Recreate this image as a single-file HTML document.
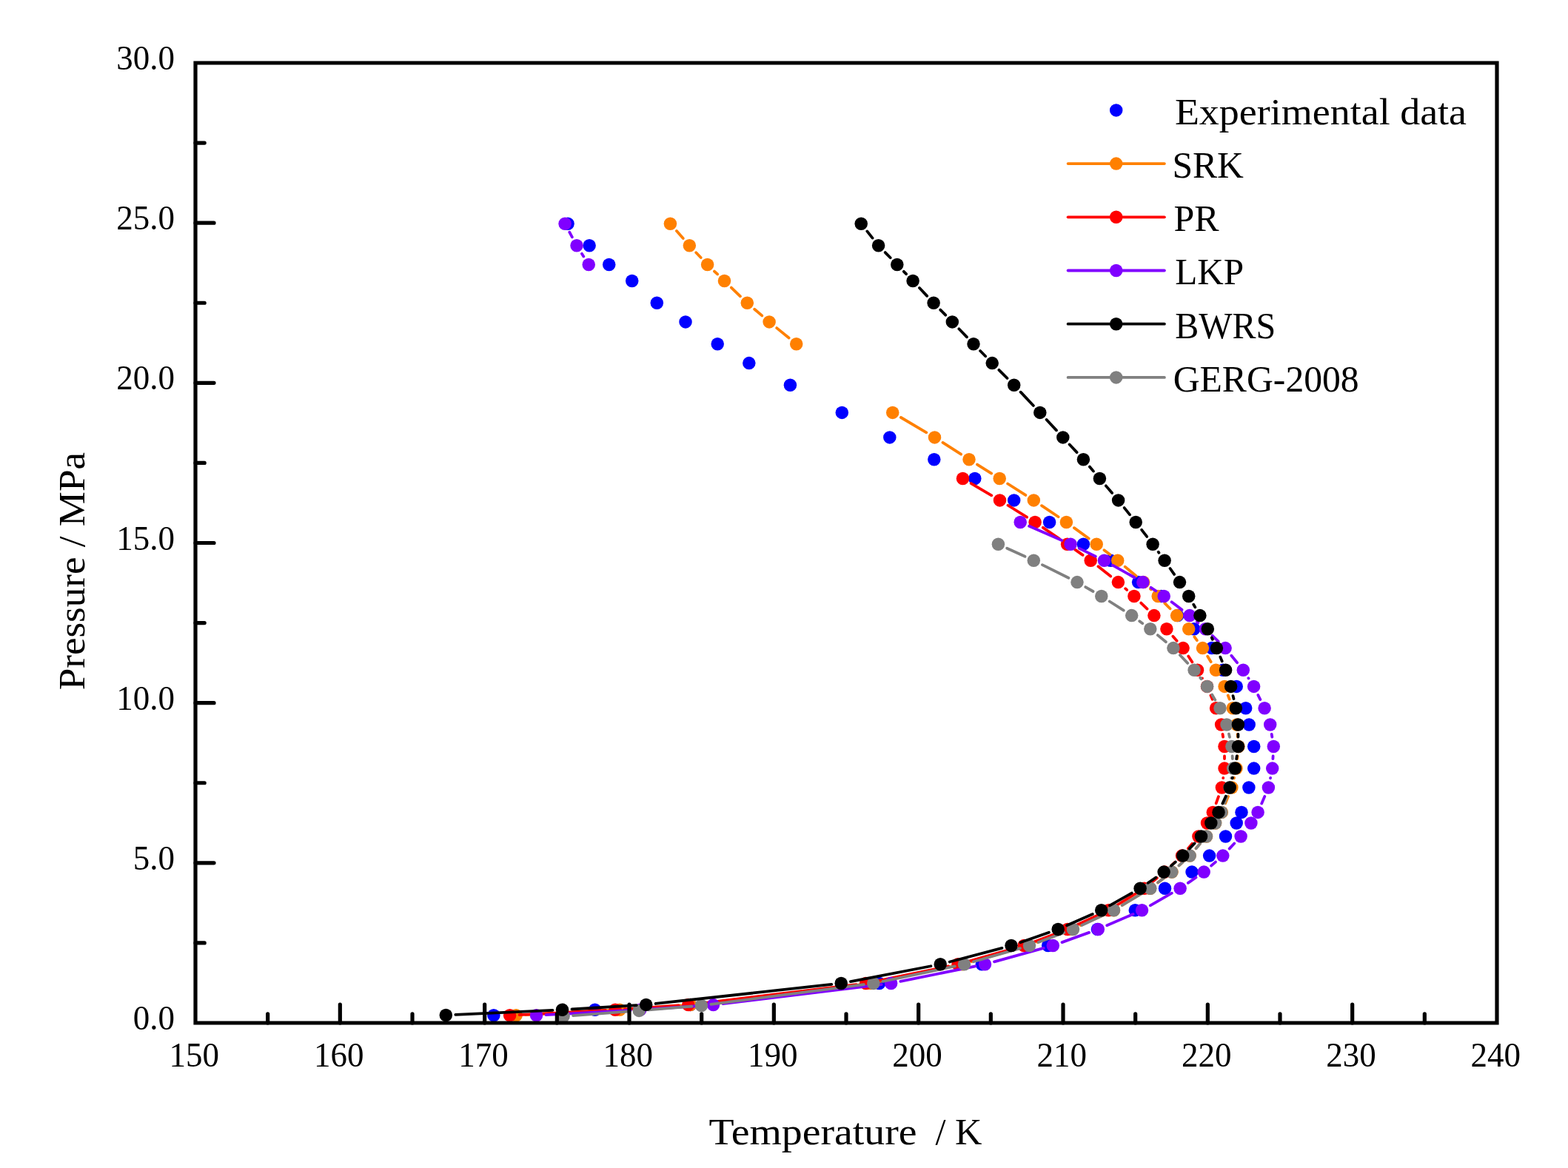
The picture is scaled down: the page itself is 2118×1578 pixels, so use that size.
<!DOCTYPE html>
<html><head><meta charset="utf-8"><title>Pressure vs Temperature</title>
<style>
html,body{margin:0;padding:0;background:#fff;}
svg{display:block;}
text{font-family:'Liberation Serif', serif;fill:#000;}
.tl{font-size:45px;}
.at{font-size:51px;}
.lg{font-size:51px;}
</style></head>
<body>
<svg width="2118" height="1578" viewBox="0 0 2118 1578">
<rect width="2118" height="1578" fill="#fff"/>
<g fill="#0000ff">
<circle cx="767" cy="302.2" r="8.75"/>
<circle cx="796.1" cy="331.8" r="8.75"/>
<circle cx="822.7" cy="357.5" r="8.75"/>
<circle cx="853.7" cy="379.5" r="8.75"/>
<circle cx="887.3" cy="409.3" r="8.75"/>
<circle cx="926" cy="434.9" r="8.75"/>
<circle cx="969.2" cy="464.7" r="8.75"/>
<circle cx="1011.8" cy="490.6" r="8.75"/>
<circle cx="1067.4" cy="520.2" r="8.75"/>
<circle cx="1137.3" cy="557.4" r="8.75"/>
<circle cx="1201.8" cy="590.9" r="8.75"/>
<circle cx="1261.8" cy="620.7" r="8.75"/>
<circle cx="1316.8" cy="646.5" r="8.75"/>
<circle cx="1369.7" cy="675.9" r="8.75"/>
<circle cx="1417.6" cy="705.5" r="8.75"/>
<circle cx="1463.4" cy="735.2" r="8.75"/>
<circle cx="1500.3" cy="757.3" r="8.75"/>
<circle cx="1537.6" cy="786.6" r="8.75"/>
<circle cx="1568.5" cy="805.5" r="8.75"/>
<circle cx="1590.7" cy="831.6" r="8.75"/>
<circle cx="1612.8" cy="849.8" r="8.75"/>
<circle cx="1636.8" cy="875.6" r="8.75"/>
<circle cx="1652" cy="905.3" r="8.75"/>
<circle cx="1670.2" cy="927.4" r="8.75"/>
<circle cx="1682.7" cy="956.8" r="8.75"/>
<circle cx="1687.2" cy="979" r="8.75"/>
<circle cx="1693.7" cy="1008.5" r="8.75"/>
<circle cx="1693.7" cy="1038.1" r="8.75"/>
<circle cx="1686.9" cy="1064" r="8.75"/>
<circle cx="1677" cy="1097.4" r="8.75"/>
<circle cx="1670.2" cy="1112" r="8.75"/>
<circle cx="1655.5" cy="1130" r="8.75"/>
<circle cx="1633.6" cy="1156.1" r="8.75"/>
<circle cx="1610" cy="1178.1" r="8.75"/>
<circle cx="1573.5" cy="1200.2" r="8.75"/>
<circle cx="1533.3" cy="1229.8" r="8.75"/>
<circle cx="1482.5" cy="1255.5" r="8.75"/>
<circle cx="1415.7" cy="1277.5" r="8.75"/>
<circle cx="1326.3" cy="1302.8" r="8.75"/>
<circle cx="1187.7" cy="1328.5" r="8.75"/>
<circle cx="932.5" cy="1357.6" r="8.75"/>
<circle cx="803.6" cy="1364.3" r="8.75"/>
<circle cx="666.9" cy="1371.8" r="8.75"/>
</g>
<g fill="#ff8000">
<path d="M913.96 311.98L922.74 322.02M940.23 341.25L946.67 348.05M964.97 366.51L969.13 370.49M987.84 388.54L999.96 400.26M1019.16 417.77L1029.24 426.43M1049.18 443.11L1065.62 456.49M1216.9 564L1251.3 584.3M1273.45 597.91L1298.05 613.69M1320.02 627.6L1339.18 639.6M1361.16 653.49L1385.34 668.91M1407.09 683.14L1429.61 698.26M1450.91 713.15L1470.69 727.55M1491.47 743.17L1499.43 749.33M1519.67 765.64L1534.73 778.26M1554.03 795.65L1554.87 796.45M1573.27 814.82L1580.53 822.28M1613.36 860.31L1616.84 865.09M1631.21 886.73L1635.69 894.17M1658.73 939.55L1660.67 944.65M1671.61 991.96L1671.89 995.54M1671.63 1021.44L1671.27 1025.16M1667.02 1050.75L1666.88 1051.35M1659 1076.04L1655.2 1085.36M1621.01 1139.85L1615.49 1146.25M1597.42 1164.88L1592.58 1169.32M1572.6 1185.89L1563.9 1192.41M1542.37 1206.92L1515.63 1223.08M1492.67 1235.18L1459.83 1250.12M1435.82 1260.04L1401.18 1272.96M1376.5 1281.05L1312.5 1299.25M1287.27 1305.44L1188.73 1325.86M1163.09 1330.04L945.41 1356.06M919.53 1358.51L849.97 1363.39M824.02 1365L710.08 1371.1" stroke="#ff8000" stroke-width="3.8" stroke-linecap="round" fill="none"/>
<circle cx="905.4" cy="302.2" r="8.75"/>
<circle cx="931.3" cy="331.8" r="8.75"/>
<circle cx="955.6" cy="357.5" r="8.75"/>
<circle cx="978.5" cy="379.5" r="8.75"/>
<circle cx="1009.3" cy="409.3" r="8.75"/>
<circle cx="1039.1" cy="434.9" r="8.75"/>
<circle cx="1075.7" cy="464.7" r="8.75"/>
<circle cx="1205.7" cy="557.4" r="8.75"/>
<circle cx="1262.5" cy="590.9" r="8.75"/>
<circle cx="1309" cy="620.7" r="8.75"/>
<circle cx="1350.2" cy="646.5" r="8.75"/>
<circle cx="1396.3" cy="675.9" r="8.75"/>
<circle cx="1440.4" cy="705.5" r="8.75"/>
<circle cx="1481.2" cy="735.2" r="8.75"/>
<circle cx="1509.7" cy="757.3" r="8.75"/>
<circle cx="1544.7" cy="786.6" r="8.75"/>
<circle cx="1564.2" cy="805.5" r="8.75"/>
<circle cx="1589.6" cy="831.6" r="8.75"/>
<circle cx="1605.7" cy="849.8" r="8.75"/>
<circle cx="1624.5" cy="875.6" r="8.75"/>
<circle cx="1642.4" cy="905.3" r="8.75"/>
<circle cx="1654.1" cy="927.4" r="8.75"/>
<circle cx="1665.3" cy="956.8" r="8.75"/>
<circle cx="1670.6" cy="979" r="8.75"/>
<circle cx="1672.9" cy="1008.5" r="8.75"/>
<circle cx="1670" cy="1038.1" r="8.75"/>
<circle cx="1663.9" cy="1064" r="8.75"/>
<circle cx="1650.3" cy="1097.4" r="8.75"/>
<circle cx="1641.6" cy="1112" r="8.75"/>
<circle cx="1629.5" cy="1130" r="8.75"/>
<circle cx="1607" cy="1156.1" r="8.75"/>
<circle cx="1583" cy="1178.1" r="8.75"/>
<circle cx="1553.5" cy="1200.2" r="8.75"/>
<circle cx="1504.5" cy="1229.8" r="8.75"/>
<circle cx="1448" cy="1255.5" r="8.75"/>
<circle cx="1389" cy="1277.5" r="8.75"/>
<circle cx="1300" cy="1302.8" r="8.75"/>
<circle cx="1176" cy="1328.5" r="8.75"/>
<circle cx="932.5" cy="1357.6" r="8.75"/>
<circle cx="837" cy="1364.3" r="8.75"/>
<circle cx="697.1" cy="1371.8" r="8.75"/>
</g>
<g fill="#ff0000">
<path d="M1311.71 653.09L1339.29 669.31M1361.54 682.76L1387.06 698.64M1408.84 712.83L1430.86 727.87M1452.25 742.65L1462.55 749.85M1483.41 765.34L1500.19 778.56M1520.16 795.18L1522.14 796.92M1541.25 814.54L1549.55 822.56M1584.38 859.65L1589.62 865.75M1605.21 886.48L1610.39 894.42M1624 916.35l0 0.01M1635.45 939.42L1637.65 944.78M1651.52 991.86L1652.08 995.64M1654 1021.5L1654 1025.1M1652.21 1050.98L1652.19 1051.12M1645.97 1076.22L1642.73 1085.18M1610.43 1139.86L1604.97 1146.24M1587.01 1164.98L1582.49 1169.22M1562.88 1186.26L1555.72 1192.04M1534.52 1207L1508.48 1223M1485.61 1235.27L1453.79 1250.03M1429.82 1260.06L1395.38 1272.94M1370.69 1281.05L1306.51 1299.25M1281.27 1305.43L1182.33 1325.87M1156.69 1330.07L942.61 1356.03M916.73 1358.48L843.97 1363.42M818.02 1364.98L701.58 1371.12" stroke="#ff0000" stroke-width="3.8" stroke-linecap="round" fill="none"/>
<circle cx="1300.5" cy="646.5" r="8.75"/>
<circle cx="1350.5" cy="675.9" r="8.75"/>
<circle cx="1398.1" cy="705.5" r="8.75"/>
<circle cx="1441.6" cy="735.2" r="8.75"/>
<circle cx="1473.2" cy="757.3" r="8.75"/>
<circle cx="1510.4" cy="786.6" r="8.75"/>
<circle cx="1531.9" cy="805.5" r="8.75"/>
<circle cx="1558.9" cy="831.6" r="8.75"/>
<circle cx="1575.9" cy="849.8" r="8.75"/>
<circle cx="1598.1" cy="875.6" r="8.75"/>
<circle cx="1617.5" cy="905.3" r="8.75"/>
<circle cx="1630.5" cy="927.4" r="8.75"/>
<circle cx="1642.6" cy="956.8" r="8.75"/>
<circle cx="1649.6" cy="979" r="8.75"/>
<circle cx="1654" cy="1008.5" r="8.75"/>
<circle cx="1654" cy="1038.1" r="8.75"/>
<circle cx="1650.4" cy="1064" r="8.75"/>
<circle cx="1638.3" cy="1097.4" r="8.75"/>
<circle cx="1630.5" cy="1112" r="8.75"/>
<circle cx="1618.9" cy="1130" r="8.75"/>
<circle cx="1596.5" cy="1156.1" r="8.75"/>
<circle cx="1573" cy="1178.1" r="8.75"/>
<circle cx="1545.6" cy="1200.2" r="8.75"/>
<circle cx="1497.4" cy="1229.8" r="8.75"/>
<circle cx="1442" cy="1255.5" r="8.75"/>
<circle cx="1383.2" cy="1277.5" r="8.75"/>
<circle cx="1294" cy="1302.8" r="8.75"/>
<circle cx="1169.6" cy="1328.5" r="8.75"/>
<circle cx="929.7" cy="1357.6" r="8.75"/>
<circle cx="831" cy="1364.3" r="8.75"/>
<circle cx="688.6" cy="1371.8" r="8.75"/>
</g>
<g fill="#8000ff">
<path d="M769.25 313.65L772.85 320.35M785.93 342.8L788.27 346.5M1390.11 710.71L1434.19 729.99M1457.79 740.89L1479.81 751.61M1502.84 763.65L1532.46 780.25M1554.62 793.8L1561.38 798.3M1582.59 813.31L1596.51 823.79M1616.8 840.02L1618.4 841.38M1637.67 858.82L1645.73 866.58M1663.31 885.68L1671.09 895.22M1686.36 916.21L1686.54 916.49M1699.35 939.06L1702.35 945.14M1717.7 991.84L1718.3 995.66M1719.6 1021.48L1719.4 1025.12M1716.09 1050.84L1716.01 1051.26M1708.28 1075.95L1704.22 1085.45M1667.24 1139.51L1660.66 1146.59M1641.94 1164.57L1636.06 1169.63M1615.49 1185.47L1604.81 1192.83M1582.82 1206.67L1553.78 1223.33M1530.58 1234.98L1495.22 1250.32M1471.07 1259.91L1434.53 1273.09M1409.77 1280.95L1343.03 1299.35M1317.76 1305.38L1216.34 1325.92M1190.69 1330.06L976.41 1356.04M950.53 1358.48L877.67 1363.42M851.72 1364.99L737.48 1371.11" stroke="#8000ff" stroke-width="3.8" stroke-linecap="round" fill="none"/>
<circle cx="763.1" cy="302.2" r="8.75"/>
<circle cx="779" cy="331.8" r="8.75"/>
<circle cx="795.2" cy="357.5" r="8.75"/>
<circle cx="1378.2" cy="705.5" r="8.75"/>
<circle cx="1446.1" cy="735.2" r="8.75"/>
<circle cx="1491.5" cy="757.3" r="8.75"/>
<circle cx="1543.8" cy="786.6" r="8.75"/>
<circle cx="1572.2" cy="805.5" r="8.75"/>
<circle cx="1606.9" cy="831.6" r="8.75"/>
<circle cx="1628.3" cy="849.8" r="8.75"/>
<circle cx="1655.1" cy="875.6" r="8.75"/>
<circle cx="1679.3" cy="905.3" r="8.75"/>
<circle cx="1693.6" cy="927.4" r="8.75"/>
<circle cx="1708.1" cy="956.8" r="8.75"/>
<circle cx="1715.7" cy="979" r="8.75"/>
<circle cx="1720.3" cy="1008.5" r="8.75"/>
<circle cx="1718.7" cy="1038.1" r="8.75"/>
<circle cx="1713.4" cy="1064" r="8.75"/>
<circle cx="1699.1" cy="1097.4" r="8.75"/>
<circle cx="1689.9" cy="1112" r="8.75"/>
<circle cx="1676.1" cy="1130" r="8.75"/>
<circle cx="1651.8" cy="1156.1" r="8.75"/>
<circle cx="1626.2" cy="1178.1" r="8.75"/>
<circle cx="1594.1" cy="1200.2" r="8.75"/>
<circle cx="1542.5" cy="1229.8" r="8.75"/>
<circle cx="1483.3" cy="1255.5" r="8.75"/>
<circle cx="1422.3" cy="1277.5" r="8.75"/>
<circle cx="1330.5" cy="1302.8" r="8.75"/>
<circle cx="1203.6" cy="1328.5" r="8.75"/>
<circle cx="963.5" cy="1357.6" r="8.75"/>
<circle cx="864.7" cy="1364.3" r="8.75"/>
<circle cx="724.5" cy="1371.8" r="8.75"/>
</g>
<g fill="#808080">
<path d="M1360.2 740.65L1384.5 751.85M1407.93 763.11L1443.37 780.79M1466.26 793.09L1476.54 799.01M1498.76 812.49L1517.74 824.61M1539.22 839.23L1543.28 842.17M1563.81 858.1L1574.89 867.3M1593.85 885.03L1604.15 895.87M1621.17 915.49L1622.53 917.21M1637.22 938.59L1641.38 945.61M1659.96 991.66L1660.94 995.84M1664.65 1021.48L1664.85 1025.12M1663.33 1050.9L1663.27 1051.2M1656.9 1076.34L1654 1085.06M1621.06 1139.88L1615.64 1146.22M1597.55 1164.81L1592.45 1169.39M1572.46 1185.98L1564.14 1192.32M1542.65 1206.89L1515.65 1223.11M1492.72 1235.3L1461.28 1250M1437.32 1260.04L1402.68 1272.96M1378.01 1281.09L1314.99 1299.21M1289.78 1305.47L1192.52 1325.83M1166.91 1330.16L960.29 1356.84M934.44 1359.56L876.16 1364.34M850.24 1366.37L774.06 1372.03" stroke="#808080" stroke-width="3.8" stroke-linecap="round" fill="none"/>
<circle cx="1348.4" cy="735.2" r="8.75"/>
<circle cx="1396.3" cy="757.3" r="8.75"/>
<circle cx="1455" cy="786.6" r="8.75"/>
<circle cx="1487.8" cy="805.5" r="8.75"/>
<circle cx="1528.7" cy="831.6" r="8.75"/>
<circle cx="1553.8" cy="849.8" r="8.75"/>
<circle cx="1584.9" cy="875.6" r="8.75"/>
<circle cx="1613.1" cy="905.3" r="8.75"/>
<circle cx="1630.6" cy="927.4" r="8.75"/>
<circle cx="1648" cy="956.8" r="8.75"/>
<circle cx="1657" cy="979" r="8.75"/>
<circle cx="1663.9" cy="1008.5" r="8.75"/>
<circle cx="1665.6" cy="1038.1" r="8.75"/>
<circle cx="1661" cy="1064" r="8.75"/>
<circle cx="1649.9" cy="1097.4" r="8.75"/>
<circle cx="1641.6" cy="1112" r="8.75"/>
<circle cx="1629.5" cy="1130" r="8.75"/>
<circle cx="1607.2" cy="1156.1" r="8.75"/>
<circle cx="1582.8" cy="1178.1" r="8.75"/>
<circle cx="1553.8" cy="1200.2" r="8.75"/>
<circle cx="1504.5" cy="1229.8" r="8.75"/>
<circle cx="1449.5" cy="1255.5" r="8.75"/>
<circle cx="1390.5" cy="1277.5" r="8.75"/>
<circle cx="1302.5" cy="1302.8" r="8.75"/>
<circle cx="1179.8" cy="1328.5" r="8.75"/>
<circle cx="947.4" cy="1358.5" r="8.75"/>
<circle cx="863.2" cy="1365.4" r="8.75"/>
<circle cx="761.1" cy="1373" r="8.75"/>
</g>
<g fill="#000000">
<path d="M1171.26 312.4L1178.54 321.6M1195.7 341.08L1202.7 348.22M1220.84 366.84L1224.06 370.16M1242 388.97L1252.2 399.83M1270.22 418.56L1277.18 425.64M1295.32 444.26L1305.98 455.34M1324.07 474.02L1331.13 481.28M1349.38 499.81L1360.52 510.99M1378.62 529.66L1395.88 547.94M1413.63 566.94L1426.97 581.36M1444.63 600.44L1454.57 611.16M1471.84 630.59L1476.96 636.61M1493.86 656.37L1502.14 666.03M1518.7 686.06L1526.1 695.34M1542.14 715.8L1549.16 724.9M1564.72 745.73L1565.48 746.77M1580.53 767.97L1586.07 775.93M1612.24 816.73L1614.36 820.37M1636.82 861.57L1637.88 863.83M1648.34 887.63L1650.66 893.27M1665.53 940.07L1666.47 944.13M1672.44 992L1672.46 995.5M1670.72 1021.38L1670.18 1025.22M1664.92 1050.63L1664.68 1051.47M1655.82 1075.83L1651.38 1085.57M1613.55 1139.42L1606.65 1146.68M1587.84 1164.57L1581.96 1169.63M1561.4 1185.49L1550.8 1192.81M1528.78 1206.59L1499.02 1223.41M1475.8 1235.03L1441.1 1250.27M1416.92 1259.77L1378.28 1273.23M1353.43 1280.82L1282.77 1299.48M1257.43 1305.25L1148.97 1326.05M1123.28 1329.92L885.62 1355.98M859.72 1358.19L772.48 1363.51M746.51 1364.89L615.29 1370.91" stroke="#000000" stroke-width="3.8" stroke-linecap="round" fill="none"/>
<circle cx="1163.2" cy="302.2" r="8.75"/>
<circle cx="1186.6" cy="331.8" r="8.75"/>
<circle cx="1211.8" cy="357.5" r="8.75"/>
<circle cx="1233.1" cy="379.5" r="8.75"/>
<circle cx="1261.1" cy="409.3" r="8.75"/>
<circle cx="1286.3" cy="434.9" r="8.75"/>
<circle cx="1315" cy="464.7" r="8.75"/>
<circle cx="1340.2" cy="490.6" r="8.75"/>
<circle cx="1369.7" cy="520.2" r="8.75"/>
<circle cx="1404.8" cy="557.4" r="8.75"/>
<circle cx="1435.8" cy="590.9" r="8.75"/>
<circle cx="1463.4" cy="620.7" r="8.75"/>
<circle cx="1485.4" cy="646.5" r="8.75"/>
<circle cx="1510.6" cy="675.9" r="8.75"/>
<circle cx="1534.2" cy="705.5" r="8.75"/>
<circle cx="1557.1" cy="735.2" r="8.75"/>
<circle cx="1573.1" cy="757.3" r="8.75"/>
<circle cx="1593.5" cy="786.6" r="8.75"/>
<circle cx="1605.7" cy="805.5" r="8.75"/>
<circle cx="1620.9" cy="831.6" r="8.75"/>
<circle cx="1631.3" cy="849.8" r="8.75"/>
<circle cx="1643.4" cy="875.6" r="8.75"/>
<circle cx="1655.6" cy="905.3" r="8.75"/>
<circle cx="1662.6" cy="927.4" r="8.75"/>
<circle cx="1669.4" cy="956.8" r="8.75"/>
<circle cx="1672.4" cy="979" r="8.75"/>
<circle cx="1672.5" cy="1008.5" r="8.75"/>
<circle cx="1668.4" cy="1038.1" r="8.75"/>
<circle cx="1661.2" cy="1064" r="8.75"/>
<circle cx="1646" cy="1097.4" r="8.75"/>
<circle cx="1635.8" cy="1112" r="8.75"/>
<circle cx="1622.5" cy="1130" r="8.75"/>
<circle cx="1597.7" cy="1156.1" r="8.75"/>
<circle cx="1572.1" cy="1178.1" r="8.75"/>
<circle cx="1540.1" cy="1200.2" r="8.75"/>
<circle cx="1487.7" cy="1229.8" r="8.75"/>
<circle cx="1429.2" cy="1255.5" r="8.75"/>
<circle cx="1366" cy="1277.5" r="8.75"/>
<circle cx="1270.2" cy="1302.8" r="8.75"/>
<circle cx="1136.2" cy="1328.5" r="8.75"/>
<circle cx="872.7" cy="1357.4" r="8.75"/>
<circle cx="759.5" cy="1364.3" r="8.75"/>
<circle cx="602.3" cy="1371.5" r="8.75"/>
</g>
<path d="M264.0 85.0H2022.0V1382.0H264.0Z" fill="none" stroke="#000" stroke-width="5.2" stroke-linejoin="miter"/>
<path d="M361.67 1382V1369.8M459.33 1382V1357M557 1382V1369.8M654.67 1382V1357M752.33 1382V1369.8M850 1382V1357M947.67 1382V1369.8M1045.33 1382V1357M1143 1382V1369.8M1240.67 1382V1357M1338.33 1382V1369.8M1436 1382V1357M1533.67 1382V1369.8M1631.33 1382V1357M1729 1382V1369.8M1826.67 1382V1357M1924.33 1382V1369.8M264 1273.92H276.2M264 1165.83H289M264 1057.75H276.2M264 949.67H289M264 841.58H276.2M264 733.5H289M264 625.42H276.2M264 517.33H289M264 409.25H276.2M264 301.17H289M264 193.08H276.2" stroke="#000" stroke-width="5.2" stroke-linecap="round" fill="none"/>
<text transform="translate(236 1391) scale(1 1.055)" text-anchor="end" class="tl">0.0</text>
<text transform="translate(236 1174.83) scale(1 1.055)" text-anchor="end" class="tl">5.0</text>
<text transform="translate(236 958.67) scale(1 1.055)" text-anchor="end" class="tl">10.0</text>
<text transform="translate(236 742.5) scale(1 1.055)" text-anchor="end" class="tl">15.0</text>
<text transform="translate(236 526.33) scale(1 1.055)" text-anchor="end" class="tl">20.0</text>
<text transform="translate(236 310.17) scale(1 1.055)" text-anchor="end" class="tl">25.0</text>
<text transform="translate(236 94) scale(1 1.055)" text-anchor="end" class="tl">30.0</text>
<text transform="translate(262.3 1441.0) scale(1 1.03)" text-anchor="middle" class="tl">150</text>
<text transform="translate(457.63 1441.0) scale(1 1.03)" text-anchor="middle" class="tl">160</text>
<text transform="translate(652.97 1441.0) scale(1 1.03)" text-anchor="middle" class="tl">170</text>
<text transform="translate(848.3 1441.0) scale(1 1.03)" text-anchor="middle" class="tl">180</text>
<text transform="translate(1043.63 1441.0) scale(1 1.03)" text-anchor="middle" class="tl">190</text>
<text transform="translate(1238.97 1441.0) scale(1 1.03)" text-anchor="middle" class="tl">200</text>
<text transform="translate(1434.3 1441.0) scale(1 1.03)" text-anchor="middle" class="tl">210</text>
<text transform="translate(1629.63 1441.0) scale(1 1.03)" text-anchor="middle" class="tl">220</text>
<text transform="translate(1824.97 1441.0) scale(1 1.03)" text-anchor="middle" class="tl">230</text>
<text transform="translate(2020.3 1441.0) scale(1 1.03)" text-anchor="middle" class="tl">240</text>
<text x="957.5" y="1546.3" class="at" textLength="281" lengthAdjust="spacingAndGlyphs">Temperature</text>
<text x="1263.5" y="1546.3" class="at" textLength="63" lengthAdjust="spacingAndGlyphs">/ K</text>
<text transform="translate(114 932.3) rotate(-90)" x="0" y="0" class="at" textLength="321.3" lengthAdjust="spacingAndGlyphs">Pressure / MPa</text>
<circle cx="1507.7" cy="148.9" r="8.75" fill="#0000ff"/>
<text x="1586.9" y="167.7" class="lg" textLength="394.2" lengthAdjust="spacingAndGlyphs">Experimental data</text>
<path d="M1442.6 221.1H1572.9" stroke="#ff8000" stroke-width="3.8" stroke-linecap="round"/>
<circle cx="1507.7" cy="221.1" r="8.75" fill="#ff8000"/>
<text x="1583.4" y="239.9" class="lg" textLength="96.5" lengthAdjust="spacingAndGlyphs">SRK</text>
<path d="M1442.6 293.3H1572.9" stroke="#ff0000" stroke-width="3.8" stroke-linecap="round"/>
<circle cx="1507.7" cy="293.3" r="8.75" fill="#ff0000"/>
<text x="1585.4" y="312.1" class="lg" textLength="61.1" lengthAdjust="spacingAndGlyphs">PR</text>
<path d="M1442.6 365.5H1572.9" stroke="#8000ff" stroke-width="3.8" stroke-linecap="round"/>
<circle cx="1507.7" cy="365.5" r="8.75" fill="#8000ff"/>
<text x="1587.2" y="384.3" class="lg" textLength="92.9" lengthAdjust="spacingAndGlyphs">LKP</text>
<path d="M1442.6 437.7H1572.9" stroke="#000000" stroke-width="3.8" stroke-linecap="round"/>
<circle cx="1507.7" cy="437.7" r="8.75" fill="#000000"/>
<text x="1587.2" y="456.5" class="lg" textLength="136.1" lengthAdjust="spacingAndGlyphs">BWRS</text>
<path d="M1442.6 509.9H1572.9" stroke="#808080" stroke-width="3.8" stroke-linecap="round"/>
<circle cx="1507.7" cy="509.9" r="8.75" fill="#808080"/>
<text x="1584.7" y="528.7" class="lg" textLength="251" lengthAdjust="spacingAndGlyphs">GERG-2008</text>
</svg>
</body></html>
